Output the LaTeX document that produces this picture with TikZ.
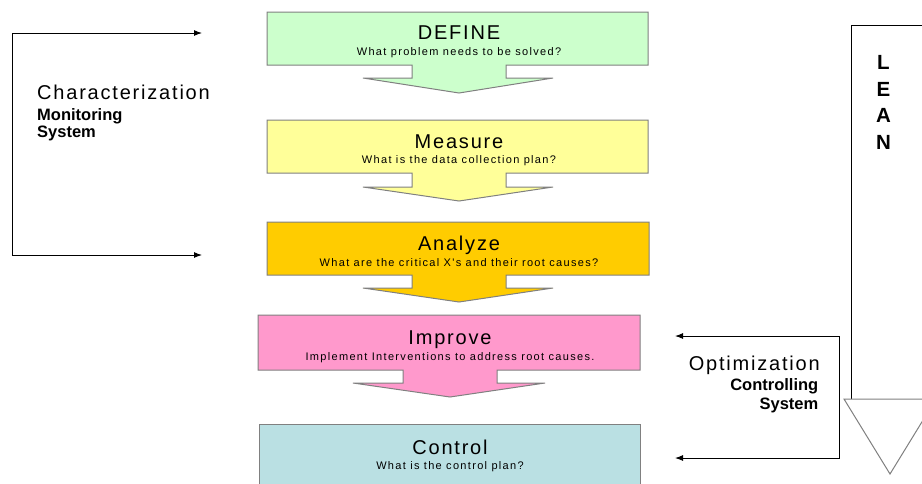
\documentclass[tikz,border=0pt]{standalone}
\usepackage{fontspec}
\setmainfont{Liberation Sans}
\newfontfamily\spacedfont[LetterSpace=9]{Liberation Sans}
\newfontfamily\subspacedfont[LetterSpace=12]{Liberation Sans}
\usetikzlibrary{arrows.meta}

\definecolor{defineFill}{RGB}{204,255,204}
\definecolor{measureFill}{RGB}{255,255,153}
\definecolor{analyzeFill}{RGB}{255,204,0}
\definecolor{improveFill}{RGB}{255,153,204}
\definecolor{controlFill}{RGB}{186,224,227}
\definecolor{edgeGray}{RGB}{128,128,128}

\tikzset{
  stagebox/.style={draw=edgeGray, line width=1pt, line join=miter},
  stagetitle/.style={font=\spacedfont\fontsize{20}{22}\selectfont, anchor=base, inner sep=0pt},
  stagesub/.style={font=\subspacedfont\fontsize{11}{13}\selectfont, anchor=base, inner sep=0pt},
  bigword/.style={font=\spacedfont\fontsize{20}{22}\selectfont, inner sep=0pt},
  smallword/.style={font=\bfseries\fontsize{16.5}{18}\selectfont, inner sep=0pt},
  leanletter/.style={font=\bfseries\fontsize{20.5}{22}\selectfont, anchor=base, inner sep=0pt},
  feedback/.style={draw=black, line width=1pt,
    {Latex[length=8pt,width=6pt]}-{Latex[length=8pt,width=6pt]}},
}

\begin{document}
\begin{tikzpicture}[x=1pt,y=-1pt]
\useasboundingbox (0,0) rectangle (922,483);
\fill[white] (0,0) rectangle (922,483);
\clip (0,0) rectangle (922,483);

% --- DMAIC stages: box with a downward arrow ---
\filldraw[stagebox, fill=defineFill]
  (267,12) -- (648,12) -- (648,65) -- (506,65) -- (506,78) -- (553,78)
  -- (459,93) -- (363,78) -- (412,78) -- (412,65) -- (267,65) -- cycle;
\node[stagetitle] (define-t) at (459,39.5) {DEFINE};
\node[stagesub]   (define-s) at (459,55) {What problem needs to be solved?};

\filldraw[stagebox, fill=measureFill]
  (267,120) -- (648,120) -- (648,173) -- (506,173) -- (506,187) -- (553,187)
  -- (459,201) -- (363,187) -- (412,187) -- (412,173) -- (267,173) -- cycle;
\node[stagetitle] (measure-t) at (459,148.5) {Measure};
\node[stagesub]   (measure-s) at (459,163.5) {What is the data collection plan?};

\filldraw[stagebox, fill=analyzeFill]
  (267,222) -- (649,222) -- (649,275) -- (506,275) -- (506,288) -- (553,288)
  -- (459,302) -- (363,288) -- (412,288) -- (412,275) -- (267,275) -- cycle;
\node[stagetitle] (analyze-t) at (459,250) {Analyze};
\node[stagesub]   (analyze-s) at (459,266.5) {What are the critical X's and their root causes?};

\filldraw[stagebox, fill=improveFill]
  (258,315) -- (640,315) -- (640,370) -- (497,370) -- (497,383) -- (545,383)
  -- (450,397) -- (353,383) -- (403,383) -- (403,370) -- (258,370) -- cycle;
\node[stagetitle] (improve-t) at (450,344.5) {Improve};
\node[stagesub]   (improve-s) at (450,360.5) {Implement Interventions to address root causes.};

\filldraw[stagebox, fill=controlFill] (259,424) rectangle (640,500);
\node[stagetitle] (control-t) at (450,454.5) {Control};
\node[stagesub]   (control-s) at (450,469.5) {What is the control plan?};

% --- left feedback loop ---
\coordinate (lTop) at (202,33);
\coordinate (lCorner) at (12,255);
\coordinate (lBot) at (202,255);
\draw[feedback] (lTop) -| (lCorner) -- (lBot);
\node[bigword, anchor=base west] (chr-1) at (37,99) {Characterization};
\node[smallword, anchor=base west] (chr-2) at (37,120) {Monitoring};
\node[smallword, anchor=base west] (chr-3) at (37,137.5) {System};

% --- right feedback loop ---
\coordinate (rTop) at (675,336);
\coordinate (rCorner) at (839,458);
\coordinate (rBot) at (675,458);
\draw[feedback] (rTop) -| (rCorner) -- (rBot);
\node[bigword, anchor=base east] (opt-1) at (820,370) {Optimization};
\node[smallword, anchor=base east] (opt-2) at (818.5,390.5) {Controlling};
\node[smallword, anchor=base east] (opt-3) at (818.5,409) {System};

% --- LEAN arrow along the right edge ---
\draw[black, line width=1pt] (851,399) -- (851,25) -- (935,25);
\filldraw[fill=white, draw=edgeGray, line width=1pt, line join=miter]
  (844,399) -- (936,399) -- (890,474) -- cycle;
\node[leanletter] (lean-l) at (883.5,69.3) {L};
\node[leanletter] (lean-e) at (883.5,96) {E};
\node[leanletter] (lean-a) at (883.5,122.5) {A};
\node[leanletter] (lean-n) at (883.5,149) {N};
\end{tikzpicture}
\end{document}
